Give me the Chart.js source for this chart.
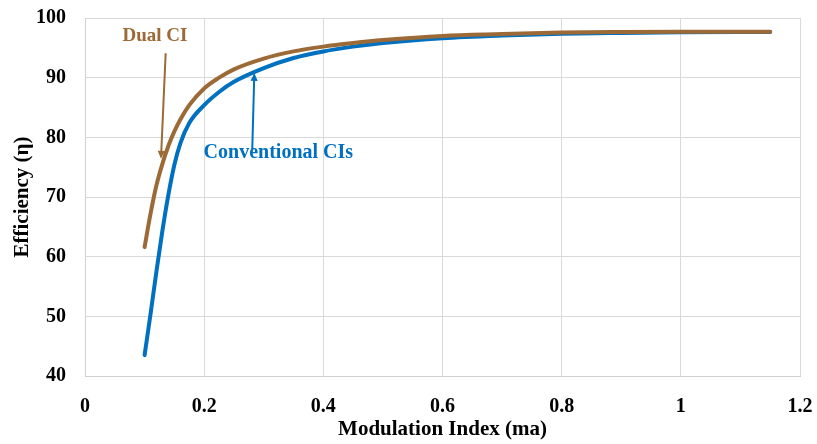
<!DOCTYPE html>
<html>
<head>
<meta charset="utf-8">
<style>
  html, body { margin: 0; padding: 0; background: #ffffff; }
  #wrap { width: 817px; height: 444px; position: relative; }
</style>
<script src="https://cdn.jsdelivr.net/npm/chart.js@4/dist/chart.umd.min.js"></script>
</head>
<body>
<div id="wrap"><canvas id="chart" width="817" height="444"></canvas></div>
<script>
// Modulation index values (x) shared by both curves
const modulationIndex = [0.10, 0.11, 0.12, 0.13, 0.14, 0.15, 0.16, 0.175, 0.20, 0.225, 0.25,
                         0.30, 0.35, 0.40, 0.45, 0.50, 0.60, 0.70, 0.80, 0.90, 1.00, 1.10, 1.15];
// Efficiency (%) with the dual class-I stage
const dualCI = [61.6, 67.2, 72.0, 75.6, 78.6, 81.0, 83.0, 85.4, 88.2, 90.0, 91.4,
                93.2, 94.4, 95.2, 95.8, 96.3, 97.0, 97.3, 97.55, 97.65, 97.7, 97.7, 97.7];
// Efficiency (%) with conventional class-I stages
const conventionalCIs = [43.5, 50.4, 57.6, 64.4, 70.4, 75.4, 79.0, 82.4, 85.4, 87.6, 89.3,
                         91.6, 93.3, 94.4, 95.2, 95.8, 96.6, 97.05, 97.35, 97.5, 97.6, 97.65, 97.65];
const xTickLabels = ['0', '0.2', '0.4', '0.6', '0.8', '1', '1.2'];
const yTickLabels = ['40', '50', '60', '70', '80', '90', '100'];

const BROWN = '#9c6a36';
const BLUE = '#0070c0';
const GRID = '#d9d9d9';
const SERIF = '"Liberation Serif", "Times New Roman", serif';

const toPoints = ys => modulationIndex.map((m, i) => ({ x: m, y: ys[i] }));

// Callout labels with arrows, placed in data coordinates
const callouts = [
  { text: 'Dual CI', color: BROWN, size: 19, at: [0.1175, 97.0], from: [0.1354, 94.1], to: [0.1275, 76.4] },
  { text: 'Conventional CIs', color: BLUE, size: 20, at: [0.3245, 77.4], from: [0.2807, 77.9], to: [0.2842, 90.8] }
];

const calloutPlugin = {
  id: 'callouts',
  afterDatasetsDraw(chart) {
    const { ctx, scales: { x, y } } = chart;
    ctx.save();
    callouts.forEach(c => {
      const fx = x.getPixelForValue(c.from[0]), fy = y.getPixelForValue(c.from[1]);
      const tx = x.getPixelForValue(c.to[0]), ty = y.getPixelForValue(c.to[1]);
      const ang = Math.atan2(ty - fy, tx - fx);
      const head = 8, half = 3.6;
      ctx.strokeStyle = c.color;
      ctx.fillStyle = c.color;
      ctx.lineWidth = 2;
      ctx.beginPath();
      ctx.moveTo(fx, fy);
      ctx.lineTo(tx - Math.cos(ang) * head * 0.8, ty - Math.sin(ang) * head * 0.8);
      ctx.stroke();
      ctx.beginPath();
      ctx.moveTo(tx, ty);
      ctx.lineTo(tx - Math.cos(ang) * head - Math.sin(ang) * half, ty - Math.sin(ang) * head + Math.cos(ang) * half);
      ctx.lineTo(tx - Math.cos(ang) * head + Math.sin(ang) * half, ty - Math.sin(ang) * head - Math.cos(ang) * half);
      ctx.closePath();
      ctx.fill();
      ctx.font = 'bold ' + c.size + 'px ' + SERIF;
      ctx.textAlign = 'center';
      ctx.textBaseline = 'middle';
      ctx.fillText(c.text, x.getPixelForValue(c.at[0]), y.getPixelForValue(c.at[1]));
    });
    ctx.restore();
  }
};

new Chart(document.getElementById('chart'), {
  type: 'line',
  data: {
    datasets: [
      { label: 'Dual CI', data: toPoints(dualCI), borderColor: BROWN, borderWidth: 4,
        pointRadius: 0, cubicInterpolationMode: 'monotone', borderCapStyle: 'round', fill: false },
      { label: 'Conventional CIs', data: toPoints(conventionalCIs), borderColor: BLUE, borderWidth: 4,
        pointRadius: 0, cubicInterpolationMode: 'monotone', borderCapStyle: 'round', fill: false }
    ]
  },
  options: {
    responsive: false,
    animation: false,
    layout: { padding: { top: 18, right: 17, left: 0, bottom: 0 } },
    plugins: { legend: { display: false }, tooltip: { enabled: false } },
    scales: {
      x: {
        type: 'linear', min: 0, max: 1.2,
        afterFit(s) { s.height = 68; s.paddingLeft = 0; s.paddingRight = 0; },
        afterBuildTicks(s) { s.ticks = xTickLabels.map(Number).map(v => ({ value: v })); },
        grid: { color: GRID, drawTicks: false },
        border: { color: '#d0d0d0' },
        ticks: {
          padding: 19, color: '#000', maxRotation: 0, autoSkip: false,
          font: { family: SERIF, size: 20, weight: 'bold' },
          callback: (v, i) => xTickLabels[i]
        },
        title: {
          display: true, text: 'Modulation Index (ma)', color: '#000',
          font: { family: SERIF, size: 21, weight: 'bold' }, padding: { top: 0, bottom: 2 }
        }
      },
      y: {
        type: 'linear', min: 40, max: 100,
        afterFit(s) { s.width = 85; s.paddingTop = 0; s.paddingBottom = 0; },
        afterBuildTicks(s) { s.ticks = yTickLabels.map(Number).map(v => ({ value: v })); },
        grid: { color: GRID, drawTicks: false },
        border: { color: '#d0d0d0' },
        ticks: {
          padding: 19, color: '#000', autoSkip: false,
          font: { family: SERIF, size: 20, weight: 'bold' },
          callback: (v, i) => yTickLabels[i]
        },
        title: {
          display: true, text: 'Efficiency (η)', color: '#000',
          font: { family: SERIF, size: 21, weight: 'bold' }, padding: { top: 10, bottom: 0 }
        }
      }
    }
  },
  plugins: [calloutPlugin]
});
</script>
</body>
</html>
